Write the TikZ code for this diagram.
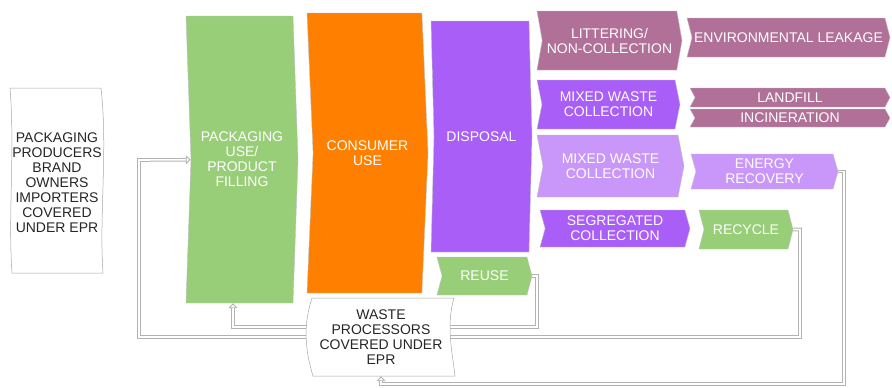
\documentclass[tikz,border=0pt]{standalone}
\usepackage{fontspec}
\setmainfont{Liberation Sans}
\usetikzlibrary{shapes.symbols,arrows.meta,backgrounds}
\definecolor{leafgreen}{HTML}{98CE78}
\definecolor{deeporange}{HTML}{FF8000}
\definecolor{violet}{HTML}{A95EF8}
\definecolor{lilac}{HTML}{C996F9}
\definecolor{mauve}{HTML}{B07098}
\tikzset{
  stage/.style={signal, signal from=west, signal to=east, draw=black!25, line width=0.4pt,
    text=white, align=center, inner sep=0pt, font=\fontsize{14}{15}\selectfont},
  wavybox/.style={draw=black!35, line width=0.5pt, fill=white},
  wavytext/.style={text=black!85, align=center, inner sep=0pt, font=\fontsize{14}{15}\selectfont},
  flow/.style={draw=black!30, double=white, double distance=1.6pt, line width=1pt},
  flowtip/.style={-{Triangle[open,length=5pt,width=9pt,line width=0.9pt]}},
}

\begin{document}
\begin{tikzpicture}[x=1pt,y=-1pt]
  \useasboundingbox (0,0) rectangle (892,388);

  %%%%% producers
  \draw[wavybox] (10,88) -- (101,88) .. controls (108,150) and (99,215) .. (103,273)
    -- (12,273) .. controls (8,215) and (15,150) .. (10,88) -- cycle;
  \node[wavytext] (producers) at (57,183) {PACKAGING\\PRODUCERS\\BRAND\\OWNERS\\IMPORTERS\\COVERED\\UNDER EPR};

  %%%%% main stages
  \node[stage, fill=leafgreen, minimum width=112pt, minimum height=287pt, signal pointer angle=176] (pkg) at (242,159.5) {PACKAGING\\USE/\\PRODUCT\\FILLING};
  \node[stage, fill=deeporange, minimum width=121pt, minimum height=280pt, signal pointer angle=175] (consumer) at (367.5,153) {CONSUMER\\USE};
  \node[stage, fill=violet, minimum width=101pt, minimum height=231pt, signal pointer angle=177] (disposal) at (481.5,136.5) {DISPOSAL};

  %%%%% collection
  \node[stage, fill=mauve, minimum width=145pt, minimum height=59pt, signal pointer angle=160] (litter) at (609.5,40.5) {LITTERING/\\NON-COLLECTION};
  \node[stage, fill=violet, minimum width=143pt, minimum height=49pt, signal pointer angle=157] (mixedA) at (608.5,104.5) {MIXED WASTE\\COLLECTION};
  \node[stage, fill=lilac, minimum width=147pt, minimum height=62pt, signal pointer angle=158] (mixedB) at (610.5,166) {MIXED WASTE\\COLLECTION};
  \node[stage, fill=violet, minimum width=150pt, minimum height=37pt, signal pointer angle=149] (segr) at (615,228.5) {SEGREGATED\\COLLECTION};
  \node[stage, fill=leafgreen, minimum width=95pt, minimum height=38pt, signal pointer angle=150] (reuse) at (484.5,276) {REUSE};

  %%%%% end of life
  \node[stage, fill=mauve, minimum width=203pt, minimum height=39pt, signal pointer angle=151] (leak) at (788.5,37.5) {ENVIRONMENTAL LEAKAGE};
  \node[stage, fill=mauve, minimum width=200pt, minimum height=19pt, signal pointer angle=124] (landfill) at (790,97.5) {LANDFILL};
  \node[stage, fill=mauve, minimum width=200pt, minimum height=18pt, signal pointer angle=122] (incin) at (790,118) {INCINERATION};
  \node[stage, fill=lilac, minimum width=147pt, minimum height=35pt, signal pointer angle=148] (energy) at (764.5,171.5) {ENERGY\\RECOVERY};
  \node[stage, fill=leafgreen, minimum width=94pt, minimum height=39pt, signal pointer angle=151] (recycle) at (746,229.5) {RECYCLE};

  %%%%% waste processors
  \draw[wavybox] (312,298) -- (454,298) .. controls (446,325) and (452,350) .. (455,376)
    -- (313,376) .. controls (305,350) and (303,325) .. (312,298) -- cycle;
  \node[wavytext, minimum width=140pt, minimum height=78pt] (waste) at (381,337) {WASTE\\PROCESSORS\\COVERED UNDER\\EPR};

  %%%%% loops
  \begin{pgfonlayer}{background}
    \draw[flow, flowtip] (recycle.east) -| (800,337) -| (139,160) -- (pkg);
    \draw[flow, flowtip] (reuse.east) -| (537,327) -| ([xshift=-9pt]pkg.south);
    \draw[flow, flowtip] (energy.east) -| (844,384) -| (waste.south);
  \end{pgfonlayer}
\end{tikzpicture}
\end{document}
